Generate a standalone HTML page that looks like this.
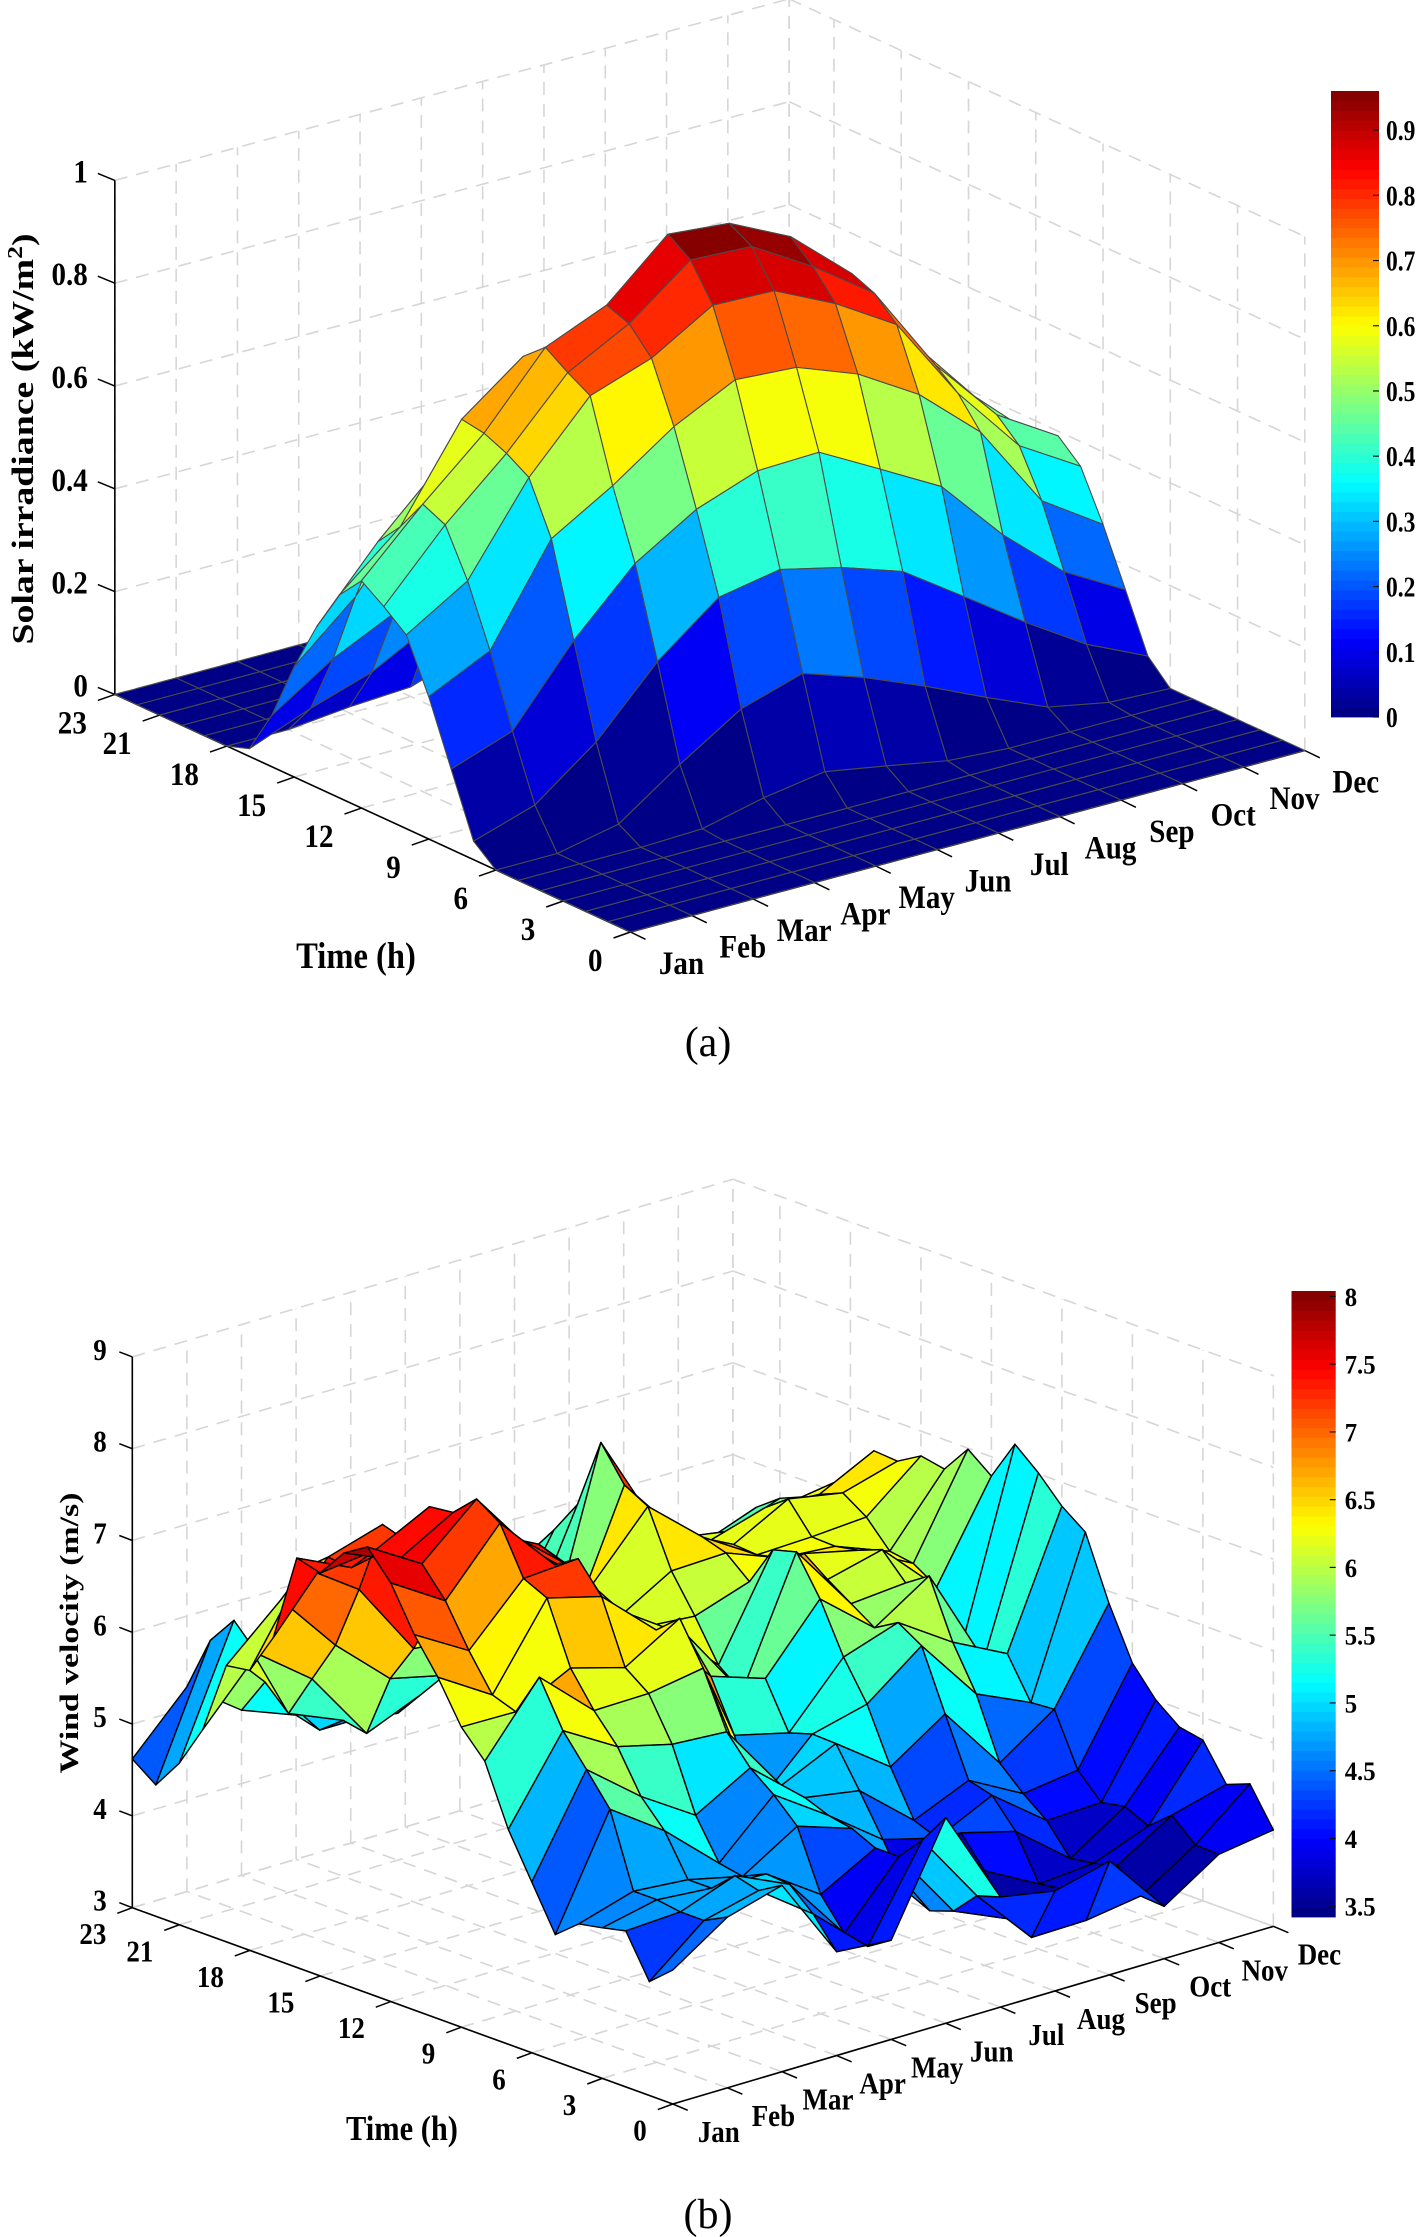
<!DOCTYPE html>
<html lang="en">
<head>
<meta charset="utf-8">
<title>Solar irradiance and wind velocity surfaces</title>
<style>
html,body{margin:0;padding:0;background:#fff;}
#stage{display:block;width:1418px;height:2237px;overflow:hidden;}
text{font-family:"Liberation Serif",serif;fill:#000;}
</style>
</head>
<body>
<svg id="stage" xmlns="http://www.w3.org/2000/svg" width="1418" height="2237" viewBox="0 0 1418 2237">
  <rect x="0" y="0" width="1418" height="2237" fill="#fff"/>
  <g id="chartA"></g>
  <g id="chartB"></g>
  <text x="708" y="1056" font-size="42" text-anchor="middle">(a)</text>
  <text x="708" y="2228" font-size="42" text-anchor="middle">(b)</text>
  <text transform="translate(33,439) rotate(-90) scale(1.22,1)" font-size="31" font-weight="bold" text-anchor="middle">Solar irradiance (kW/m<tspan font-size="21" dy="-11">2</tspan><tspan dy="11">)</tspan></text>
  <text transform="translate(356,968) scale(.88,1)" font-size="37" font-weight="bold" text-anchor="middle">Time (h)</text>
  <text transform="translate(78,1633) rotate(-90) scale(1.3,1)" font-size="26" font-weight="bold" text-anchor="middle">Wind velocity (m/s)</text>
  <text transform="translate(402,2140) scale(.87,1)" font-size="35" font-weight="bold" text-anchor="middle">Time (h)</text>
</svg>
<script>
const monthLabels = ["Jan","Feb","Mar","Apr","May","Jun","Jul","Aug","Sep","Oct","Nov","Dec"];
const hourTickValues = [0,3,6,9,12,15,18,21,23];
const solarZTicks = [0,0.2,0.4,0.6,0.8,1];
const solarBarTicks = [0,0.1,0.2,0.3,0.4,0.5,0.6,0.7,0.8,0.9];
const windZTicks = [3,4,5,6,7,8,9];
const windBarTicks = [3.5,4,4.5,5,5.5,6,6.5,7,7.5,8];

/* Solar irradiance (kW/m2), one array per month, hours 0..23 */
const solarJan = [0,0,0,0,0,0,0,.036,.156,.277,.377,.412,.442,.394,.3125,.215,.1,.015,0,0,0,0,0,0];
const solarFeb = [0,0,0,0,0,0,0,.074,.198,.334,.45,.539,.559,.495,.446,.319,.178,.0615,0,0,0,0,0,0];
const solarMar = [0,0,0,0,0,0,.025,.165,.342,.52,.619,.646,.665,.672,.56,.47,.235,.1,.012,0,0,0,0,0];
const solarApr = [0,0,0,0,0,.004,.109,.289,.46,.591,.746,.771,.8,.762,.66,.58,.38,.163,.019,0,0,0,0,0];
const solarMay = [0,0,0,0,0,.032,.185,.382,.533,.674,.787,.834,.85,.77,.7,.6,.46,.26,.06,0,0,0,0,0];
const solarJun = [0,0,0,0,0,.051,.222,.404,.576,.733,.858,.926,.956,.86,.76,.64,.5,.32,.12,0,0,0,0,0];
const solarJul = [0,0,0,0,0,.03,.182,.376,.58,.725,.854,.92,.945,.88,.78,.65,.5,.32,.13,0,0,0,0,0];
const solarAug = [0,0,0,0,0,.008,.133,.336,.515,.68,.797,.849,.887,.84,.74,.62,.46,.28,.09,0,0,0,0,0];
const solarSep = [0,0,0,0,0,0,.079,.255,.449,.608,.724,.765,.783,.74,.65,.53,.38,.2,.04,0,0,0,0,0];
const solarOct = [0,0,0,0,0,0,.028,.173,.323,.503,.558,.593,.615,.58,.52,.42,.27,.11,.01,0,0,0,0,0];
const solarNov = [0,0,0,0,0,0,.005,.098,.219,.337,.424,.464,.48,.45,.38,.28,.14,.04,0,0,0,0,0,0];
const solarDec = [0,0,0,0,0,0,0,.043,.152,.259,.352,.391,.37,.33,.26,.16,.06,.01,0,0,0,0,0,0];

/* Wind velocity (m/s), one array per month, hours 0..23 */
const windJan = [4.46,4.24,4.7,4.64,4.59,4.38,4.86,5.34,5.99,6.27,6.72,7.09,7.56,7.86,7.7,7.39,7.46,6.5,6.05,6.01,5.22,4.76,4.43,4.62];
const windFeb = [4.86,4.73,4.73,4.77,4.77,5.57,5.91,6.24,6.73,6.26,6.35,6.74,7.19,7.5,7.45,7.46,7.18,7.2,6.99,6.55,5.87,6.14,5.83,5.23];
const windMar = [5.03,4.88,4.95,4.72,4.72,5.16,5.44,5.89,6.19,6.56,7.23,7.35,7.86,8.03,7.79,7.76,7.3,7.38,6.58,5.88,5.42,4.95,5.2,4.8];
const windApr = [4.13,4.45,4.68,4.7,4.58,4.63,5.06,5.74,6.2,6.39,7.07,7.39,7.23,7.3,7.4,7.3,7,6.3,5.76,5.34,4.65,4.7,4.5,4.57];
const windMay = [4.08,3.92,3.97,4.3,4.95,5.2,5.4,5.7,6.3,6.75,6.53,6.2,6.6,6.8,6.9,7,6.8,6.3,5.7,5.2,4.9,4.6,4.5,4.4];
const windJun = [5.24,4.9,4.63,4.63,4.75,4.8,4.9,4.94,4.65,5.3,5.85,6.2,6.2,6.1,6.1,6.4,5.8,5.5,5.5,5.4,5.3,5.2,5.2,5.2];
const windJul = [4.2,4.12,3.86,3.77,3.89,4.36,4.8,5.22,5.23,5.15,5.65,5.41,5.61,6.05,6.45,7.06,7.2,7.57,6.8,6.43,6.1,6,5.8,5.6];
const windAug = [4.09,3.49,3.6,4.03,4.35,4.2,4.3,4.79,5.38,5.8,6.34,6.76,6.69,6.25,6.47,6.55,6.5,6.5,6.3,6,5.8,5.6,5.5,5.4];
const windSep = [4.24,3.5,3.75,3.71,4.19,4.49,4.56,5.19,5.84,6,5.85,6.02,6.19,6.38,6.24,6.18,6.2,6.15,6.1,5.9,5.7,5.5,5.3,5.1];
const windOct = [3.57,3.59,3.83,3.76,3.72,4.04,4.24,4.48,5.14,5.61,6.24,6.07,6.34,6.24,6.19,6.2,6.52,6.33,6,5.7,5.4,5.2,5,4.9];
const windNov = [3.96,3.97,4.2,3.99,4.11,4.06,4.32,4.89,4.87,5.31,5.15,5.15,5.76,5.92,5.96,6.24,6.41,6.3,6.15,5.97,5.69,5.5,5.3,5.1];
const windDec = [4.05,4.46,4.36,4.75,4.8,5,5.31,5.87,6.55,6.74,7.01,7.23,6.79,6.99,6.68,6.73,6.58,6.6,6.24,5.96,5.82,5.71,5.52,4.99];

const solarMonths = [solarJan,solarFeb,solarMar,solarApr,solarMay,solarJun,solarJul,solarAug,solarSep,solarOct,solarNov,solarDec];
const windMonths = [windJan,windFeb,windMar,windApr,windMay,windJun,windJul,windAug,windSep,windOct,windNov,windDec];

const NS = "http://www.w3.org/2000/svg";

function clamp01(v){ return Math.max(0, Math.min(1, v)); }

function jet(t){
  const q = (Math.min(63, Math.floor(clamp01(t) * 64)) + 0.5) / 64;
  const r = clamp01(1.5 - Math.abs(4 * q - 3));
  const g = clamp01(1.5 - Math.abs(4 * q - 2));
  const b = clamp01(1.5 - Math.abs(4 * q - 1));
  return "rgb(" + Math.round(r * 255) + "," + Math.round(g * 255) + "," + Math.round(b * 255) + ")";
}

function addLine(parent, a, b, stroke, width, dash){
  const el = document.createElementNS(NS, "line");
  el.setAttribute("x1", a[0].toFixed(2));
  el.setAttribute("y1", a[1].toFixed(2));
  el.setAttribute("x2", b[0].toFixed(2));
  el.setAttribute("y2", b[1].toFixed(2));
  el.setAttribute("stroke", stroke);
  el.setAttribute("stroke-width", width);
  if (dash) el.setAttribute("stroke-dasharray", dash);
  parent.appendChild(el);
  return el;
}

function addText(parent, str, x, y, size, sx, anchor){
  const el = document.createElementNS(NS, "text");
  el.setAttribute("transform", "translate(" + x.toFixed(2) + "," + y.toFixed(2) + ") scale(" + sx + ",1)");
  el.setAttribute("font-size", size);
  el.setAttribute("font-weight", "bold");
  el.setAttribute("text-anchor", anchor);
  el.textContent = str;
  parent.appendChild(el);
  return el;
}

function drawChart(root, c){
  function project(m, h, v){
    return [c.fx + c.mx * m + c.hx * h, c.fy + c.my * m + c.hy * h - (v - c.zMin) * c.zs];
  }
  const topZ = c.zTicks[c.zTicks.length - 1];
  const lastM = c.data.length - 1;
  const lastH = c.data[0].length - 1;
  const gridColor = "#d6d6d6";
  const gridDash = "13 9";

  const grid = document.createElementNS(NS, "g");
  
  
  root.appendChild(grid);
  for (let m = 0; m <= lastM; m++) {
    const wall = addLine(grid, project(m, lastH, c.zMin), project(m, lastH, topZ), gridColor, 1.6, gridDash);
    
    
    const floor = addLine(grid, project(m, 0, c.zMin), project(m, lastH, c.zMin), gridColor, 1.6, gridDash);
    
    
  }
  hourTickValues.forEach(function(h){
    const wall = addLine(grid, project(lastM, h, c.zMin), project(lastM, h, topZ), gridColor, 1.6, gridDash);
    
    
    const floor = addLine(grid, project(0, h, c.zMin), project(lastM, h, c.zMin), gridColor, 1.6, gridDash);
    
    
  });
  c.zTicks.forEach(function(v){
    const left = addLine(grid, project(0, lastH, v), project(lastM, lastH, v), gridColor, 1.6, gridDash);
    
    
    const right = addLine(grid, project(lastM, lastH, v), project(lastM, 0, v), gridColor, 1.6, gridDash);
    
    
  });

  const axes = document.createElementNS(NS, "g");
  
  
  root.appendChild(axes);
  const zAxis = addLine(axes, project(0, lastH, c.zMin), project(0, lastH, topZ), "#000", 1.6);
  
  
  const hAxis = addLine(axes, project(0, lastH, c.zMin), project(0, 0, c.zMin), "#000", 1.6);
  
  
  const mAxis = addLine(axes, project(0, 0, c.zMin), project(lastM, 0, c.zMin), "#000", 1.6);
  
  

  c.zTicks.forEach(function(v){
    const p = project(0, lastH, v);
    const tick = addLine(axes, p, [p[0] + c.zTick[0], p[1] + c.zTick[1]], "#000", 1.5);
    
    
    const label = addText(root, String(v), p[0] + c.zLabel[0], p[1] + c.zLabel[1], c.tickSize, c.tickScale, "end");
    
    
  });
  hourTickValues.forEach(function(h){
    const p = project(0, h, c.zMin);
    const tick = addLine(axes, p, [p[0] + c.hTick[0], p[1] + c.hTick[1]], "#000", 1.5);
    
    
    const label = addText(root, String(h), p[0] + c.hLabel[0], p[1] + c.hLabel[1], c.tickSize, c.tickScale, "end");
    
    
  });
  monthLabels.forEach(function(name, m){
    const p = project(m, 0, c.zMin);
    const tick = addLine(axes, p, [p[0] + c.mTick[0], p[1] + c.mTick[1]], "#000", 1.5);
    
    
    const label = addText(root, name, p[0] + c.mLabel[0], p[1] + c.mLabel[1], c.tickSize, c.tickScale, "middle");
    
    
  });

  const surface = document.createElementNS(NS, "g");
  
  
  surface.setAttribute("stroke", c.edge);
  surface.setAttribute("stroke-width", c.edgeWidth);
  surface.setAttribute("stroke-linejoin", "round");
  root.appendChild(surface);
  for (let h = lastH - 1; h >= 0; h--) {
    for (let m = lastM - 1; m >= 0; m--) {
      const corners = [
        project(m, h, c.data[m][h]),
        project(m + 1, h, c.data[m + 1][h]),
        project(m + 1, h + 1, c.data[m + 1][h + 1]),
        project(m, h + 1, c.data[m][h + 1])
      ];
      const poly = document.createElementNS(NS, "polygon");
      poly.setAttribute("points", corners.map(function(p){ return p[0].toFixed(2) + "," + p[1].toFixed(2); }).join(" "));
      poly.setAttribute("fill", jet((c.data[m][h] - c.cMin) / (c.cMax - c.cMin)));
      
      
      surface.appendChild(poly);
    }
  }

  const bar = document.createElementNS(NS, "g");
  
  
  root.appendChild(bar);
  const levels = 64;
  const step = (c.barBottom - c.barTop) / levels;
  for (let i = 0; i < levels; i++) {
    const r = document.createElementNS(NS, "rect");
    r.setAttribute("x", c.barLeft);
    r.setAttribute("y", (c.barBottom - (i + 1) * step).toFixed(2));
    r.setAttribute("width", c.barRight - c.barLeft);
    r.setAttribute("height", (step + 0.4).toFixed(2));
    r.setAttribute("fill", jet((i + 0.5) / levels));
    
    
    bar.appendChild(r);
  }
  function barY(v){
    return c.barBottom - (v - c.barMin) / (c.barMax - c.barMin) * (c.barBottom - c.barTop);
  }
  c.barTicks.forEach(function(v){
    const y = barY(v);
    const tick = addLine(bar, [c.barRight - 6, y], [c.barRight, y], "#111", 1.2);
    
    
    const label = addText(bar, String(v), c.barRight + c.barLabelX, y + c.barLabelY, c.barSize, c.barScale, "start");
    
    
  });
}

drawChart(document.getElementById("chartA"), {
  id: "solar", data: solarMonths, zTicks: solarZTicks, barTicks: solarBarTicks,
  fx: 630.5, fy: 932, mx: 61.3, my: -16.5, hx: -22.42, hy: -10.33, zs: 514, zMin: 0,
  cMin: 0, cMax: 0.935, edge: "#4a4a4a", edgeWidth: 1.1,
  zTick: [-17, -7], hTick: [-17, 6], mTick: [15, 7.3],
  zLabel: [-27, 2], hLabel: [-28, 39], mLabel: [51, 42], tickSize: 33, tickScale: 0.88,
  barLeft: 1331, barRight: 1379, barTop: 91, barBottom: 717, barMin: 0, barMax: 0.96,
  barLabelX: 7, barLabelY: 10, barSize: 28, barScale: 0.84
});

drawChart(document.getElementById("chartB"), {
  id: "wind", data: windMonths, zTicks: windZTicks, barTicks: windBarTicks,
  fx: 672.8, fy: 2104, mx: 54.6, my: -16.15, hx: -23.5, hy: -8.535, zs: 91.8, zMin: 3,
  cMin: 3.42, cMax: 8.04, edge: "#000", edgeWidth: 1.4,
  zTick: [-13, -5], hTick: [-15, 5.6], mTick: [15, 6.3],
  zLabel: [-25.6, 3], hLabel: [-26, 36.5], mLabel: [46, 38], tickSize: 31, tickScale: 0.87,
  barLeft: 1291.5, barRight: 1335.7, barTop: 1291, barBottom: 1917, barMin: 3.42, barMax: 8.04,
  barLabelX: 9, barLabelY: 9.5, barSize: 26, barScale: 0.95
});
</script>
</body>
</html>
